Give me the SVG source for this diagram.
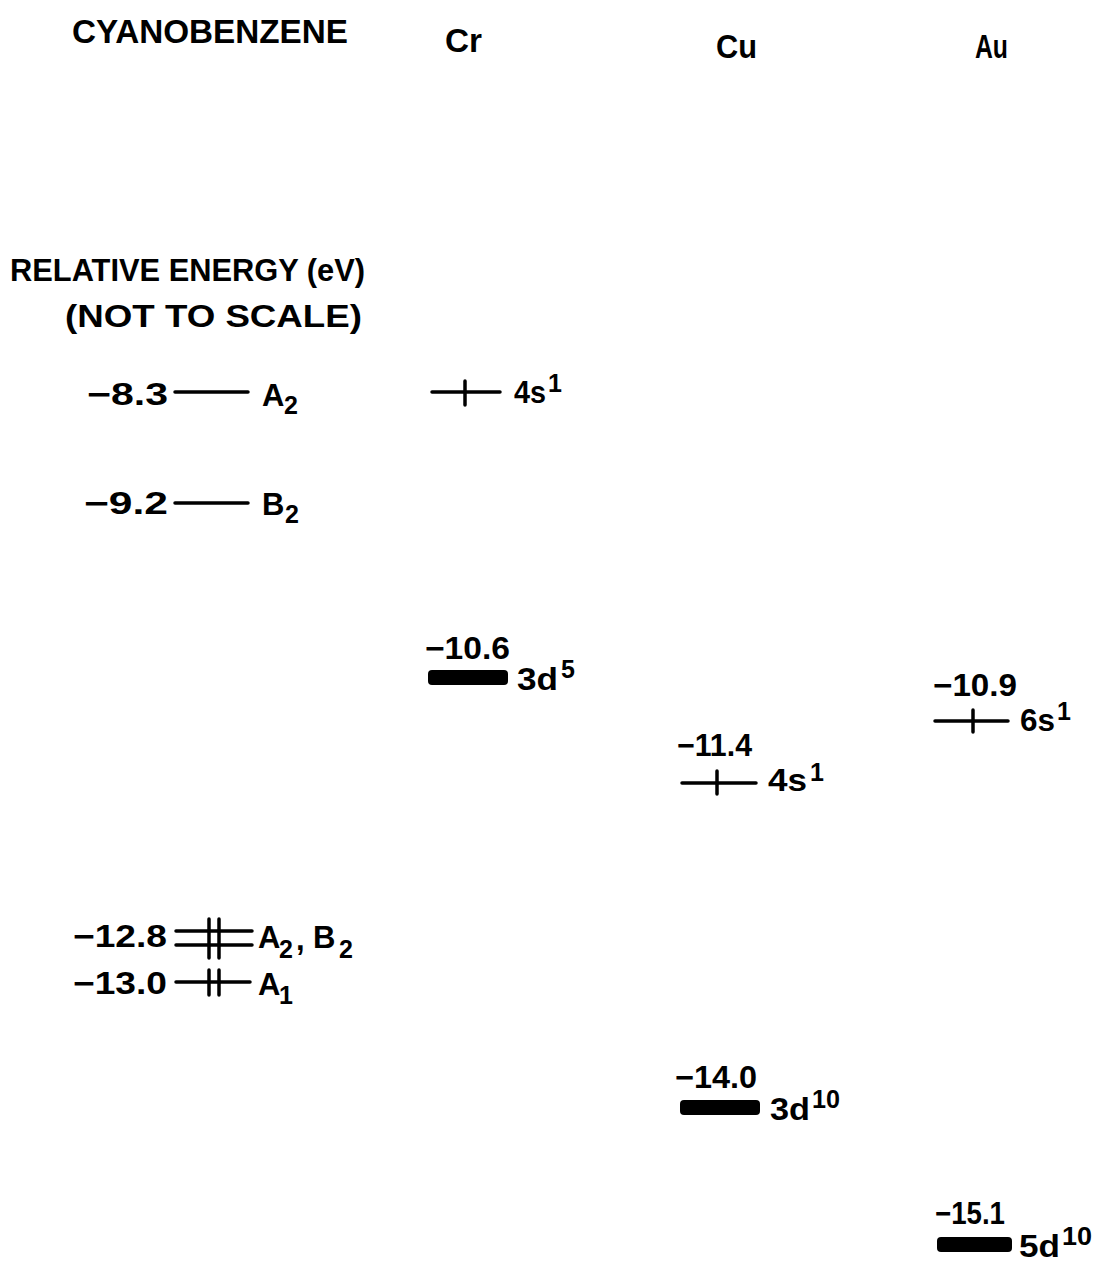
<svg xmlns="http://www.w3.org/2000/svg" width="1097" height="1264" viewBox="0 0 1097 1264">
<style>
text{font-family:"Liberation Sans","DejaVu Sans",Arial,sans-serif;font-weight:bold;fill:#000;}
.t{font-size:31px;}
.h{font-size:33px;}
.s{font-size:25px;}
.lv{stroke:#000;stroke-width:3.5;stroke-linecap:round;fill:none;}
.bar{fill:#000;}
</style>
<rect width="1097" height="1264" fill="#fff"/>
<g id="headers">
<text class="h" x="72" y="43" textLength="276" lengthAdjust="spacingAndGlyphs">CYANOBENZENE</text>
<text class="h" x="445" y="52" textLength="37" lengthAdjust="spacingAndGlyphs">Cr</text>
<text class="h" x="716" y="58" textLength="41" lengthAdjust="spacingAndGlyphs">Cu</text>
<text class="h" x="975" y="58" textLength="33" lengthAdjust="spacingAndGlyphs">Au</text>
</g>
<g id="axis-label">
<text class="t" x="10" y="281" textLength="355" lengthAdjust="spacingAndGlyphs">RELATIVE ENERGY (eV)</text>
<text class="t" x="65" y="327" textLength="297" lengthAdjust="spacingAndGlyphs">(NOT TO SCALE)</text>
</g>
<g id="connectors">
<line class="lv" x1="175" y1="392" x2="248" y2="392"/>
<line class="lv" x1="175" y1="503" x2="248" y2="503"/>
<line class="lv" x1="176" y1="931" x2="252" y2="931"/>
<line class="lv" x1="176" y1="945" x2="252" y2="945"/>
<line class="lv" x1="209" y1="919" x2="209" y2="958"/>
<line class="lv" x1="219" y1="919" x2="219" y2="958"/>
<line class="lv" x1="176" y1="982" x2="250" y2="982"/>
<line class="lv" x1="209" y1="970" x2="209" y2="995"/>
<line class="lv" x1="219" y1="970" x2="219" y2="995"/>
<line class="lv" x1="432" y1="392" x2="500" y2="392"/>
<line class="lv" x1="465" y1="381" x2="465" y2="405"/>
<rect class="bar" x="428" y="670" width="80" height="15" rx="4"/>
<line class="lv" x1="682" y1="783" x2="756" y2="783"/>
<line class="lv" x1="717" y1="771" x2="717" y2="794"/>
<rect class="bar" x="680" y="1100" width="80" height="15" rx="4"/>
<line class="lv" x1="935" y1="721" x2="1008" y2="721"/>
<line class="lv" x1="973" y1="710" x2="973" y2="732"/>
<rect class="bar" x="937" y="1237" width="75" height="15" rx="4"/>
</g>
<g id="cb-a2-upper">
<text class="t" x="87" y="405" textLength="81" lengthAdjust="spacingAndGlyphs">−8.3</text>
<text class="t" x="262" y="406">A</text>
<text class="s" x="284" y="414">2</text>
</g>
<g id="cb-b2-upper">
<text class="t" x="84" y="514" textLength="84" lengthAdjust="spacingAndGlyphs">−9.2</text>
<text class="t" x="262" y="515">B</text>
<text class="s" x="285" y="523">2</text>
</g>
<g id="cb-a2b2-lower">
<text class="t" x="73" y="947" textLength="94" lengthAdjust="spacingAndGlyphs">−12.8</text>
<text class="t" x="258" y="948">A</text>
<text class="s" x="279" y="958">2</text>
<text class="t" x="296" y="950">,</text>
<text class="t" x="313" y="948">B</text>
<text class="s" x="339" y="958">2</text>
</g>
<g id="cb-a1">
<text class="t" x="73" y="994" textLength="94" lengthAdjust="spacingAndGlyphs">−13.0</text>
<text class="t" x="258" y="995">A</text>
<text class="s" x="279" y="1004">1</text>
</g>
<g id="cr-4s">
<text class="t" x="514" y="403" textLength="32" lengthAdjust="spacingAndGlyphs">4s</text>
<text class="s" x="548" y="392">1</text>
</g>
<g id="cr-3d">
<text class="t" x="425" y="659" textLength="85" lengthAdjust="spacingAndGlyphs">−10.6</text>
<text class="t" x="517" y="690" textLength="41" lengthAdjust="spacingAndGlyphs">3d</text>
<text class="s" x="561" y="678">5</text>
</g>
<g id="cu-4s">
<text class="t" x="677" y="756" textLength="75" lengthAdjust="spacingAndGlyphs">−11.4</text>
<text class="t" x="768" y="791" textLength="39" lengthAdjust="spacingAndGlyphs">4s</text>
<text class="s" x="810" y="781">1</text>
</g>
<g id="cu-3d">
<text class="t" x="675" y="1088" textLength="82" lengthAdjust="spacingAndGlyphs">−14.0</text>
<text class="t" x="770" y="1120" textLength="40" lengthAdjust="spacingAndGlyphs">3d</text>
<text class="s" x="812" y="1108" textLength="28" lengthAdjust="spacingAndGlyphs">10</text>
</g>
<g id="au-6s">
<text class="t" x="933" y="696" textLength="84" lengthAdjust="spacingAndGlyphs">−10.9</text>
<text class="t" x="1020" y="731" textLength="35" lengthAdjust="spacingAndGlyphs">6s</text>
<text class="s" x="1057" y="720">1</text>
</g>
<g id="au-5d">
<text class="t" x="935" y="1224" textLength="70" lengthAdjust="spacingAndGlyphs">−15.1</text>
<text class="t" x="1019" y="1257" textLength="41" lengthAdjust="spacingAndGlyphs">5d</text>
<text class="s" x="1062" y="1245" textLength="30" lengthAdjust="spacingAndGlyphs">10</text>
</g>
</svg>
